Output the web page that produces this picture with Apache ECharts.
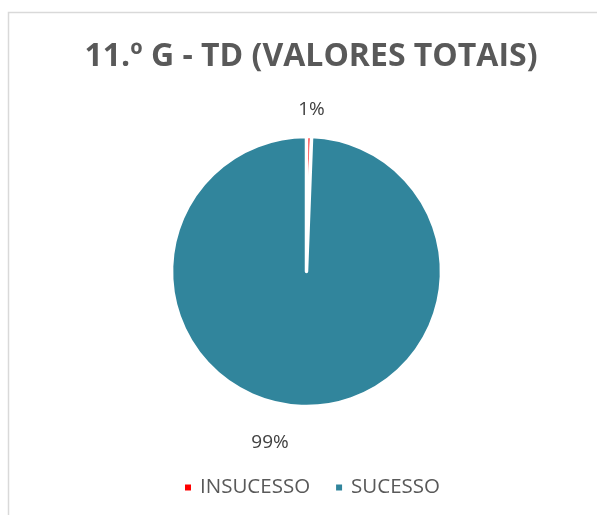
<!DOCTYPE html>
<html>
<head>
<meta charset="utf-8">
<script src="https://cdn.jsdelivr.net/npm/echarts@6/dist/echarts.min.js"></script>
<style>
  html, body { margin: 0; padding: 0; background: #fff; }
  #chart { width: 597px; height: 515px; }
</style>
</head>
<body>
<div id="chart"></div>
<script>
// dados do gráfico
const titulo = '11.º G - TD (VALORES TOTAIS)'
const categorias = ['INSUCESSO', 'SUCESSO']
const valores = [0.6, 99.4]
const cores = ['#FF0000', '#31859C']

let myChart = echarts.init(document.getElementById('chart'))

let option = {
  backgroundColor: '#fff',
  title: {
    text: titulo,
    left: 306,
    textAlign: 'center',
    top: 36,
    textStyle: {
      fontFamily: 'Open Sans',
      fontSize: 32,
      fontWeight: 'bold',
      color: '#595959'
    }
  },
  legend: {
    data: categorias,
    top: 472,
    left: 178,
    icon: 'rect',
    itemWidth: 8,
    itemHeight: 8,
    itemGap: 24,
    textStyle: {
      fontFamily: 'Open Sans',
      fontSize: 20.5,
      color: '#595959',
      padding: [0, 0, 0, 3]
    }
  },
  // moldura cinzenta do gráfico
  graphic: [{
    type: 'rect',
    shape: { x: 8.5, y: 12.5, width: 620, height: 540 },
    style: { fill: 'none', stroke: '#d9d9d9', lineWidth: 1.5 },
    silent: true
  }],
  series: [{
    type: 'pie',
    center: [306.5, 271.5],
    radius: 135,
    startAngle: 90,
    clockwise: true,
    color: cores,
    itemStyle: { borderColor: '#fff', borderWidth: 3.5 },
    label: {
      show: true,
      position: 'outside',
      formatter: p => Math.round(p.percent) + '%',
      fontFamily: 'Open Sans',
      fontSize: 19,
      color: '#404040'
    },
    labelLine: { show: false, length: 10, length2: 0 },
    labelLayout: function (p) {
      if (p.dataIndex === 1) return { dx: -10, dy: 26 }
      return { dx: -16, dy: -17 }
    },
    emphasis: { disabled: true },
    data: categorias.map((c, i) => ({ name: c, value: valores[i] }))
  }]
}

myChart.setOption(option)
window.onresize = myChart.resize
</script>
</body>
</html>
